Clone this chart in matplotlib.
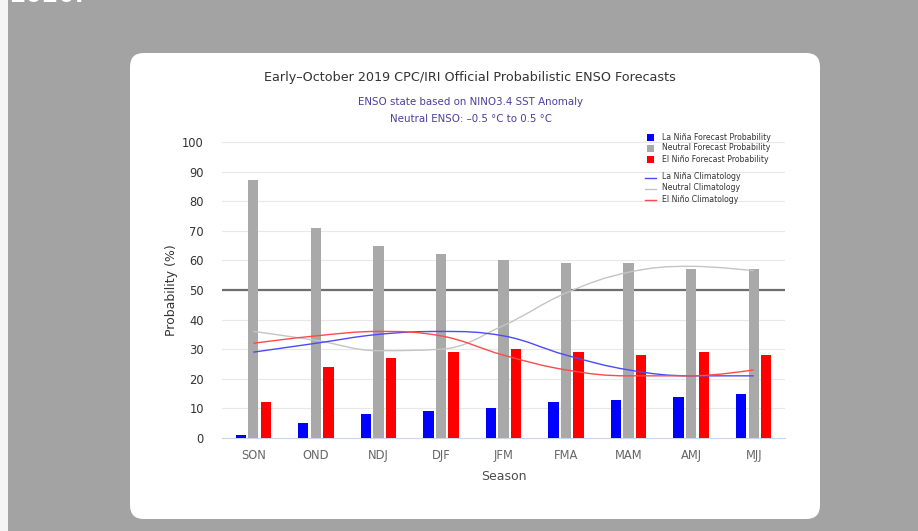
import numpy as np
import matplotlib.pyplot as plt
from matplotlib.patches import FancyBboxPatch, Rectangle, PathPatch
from matplotlib.path import Path
from matplotlib.lines import Line2D

# ============================================
# DATA
# ============================================

seasons = ["SON", "OND", "NDJ", "DJF", "JFM", "FMA", "MAM", "AMJ", "MJJ"]

la_nina_prob = [1, 5, 8, 9, 10, 12, 13, 14, 15]
neutral_prob = [87, 71, 65, 62, 60, 59, 59, 57, 57]
el_nino_prob = [12, 24, 27, 29, 30, 29, 28, 29, 28]

la_nina_clim = [29, 32, 35, 36, 34.5, 28, 23, 21, 21]
neutral_clim = [36, 33, 29.5, 30, 38, 49, 56, 58, 56.5]
el_nino_clim = [32, 34.5, 36, 34.5, 28, 23, 21, 21, 23]

BLUE = "#0000ff"
GRAY = "#a9a9a9"
RED = "#ff0000"

W, H = 918, 531


def fx(px):
    return px / W


def fy(py):
    return 1 - py / H


def spline_path(xs, ys, smoothing=1.5):
    # highcharts-style smooth curve through the points
    n = len(xs)
    denom = smoothing + 1
    left = [None] * n
    right = [None] * n
    for i in range(1, n - 1):
        x, y = xs[i], ys[i]
        lx, ly = xs[i - 1], ys[i - 1]
        nx, ny = xs[i + 1], ys[i + 1]
        lcx = (smoothing * x + lx) / denom
        lcy = (smoothing * y + ly) / denom
        rcx = (smoothing * x + nx) / denom
        rcy = (smoothing * y + ny) / denom
        corr = ((rcy - lcy) * (rcx - x)) / (rcx - lcx) + y - rcy
        lcy += corr
        rcy += corr
        if lcy > ly and lcy > y:
            lcy = max(ly, y)
            rcy = 2 * y - lcy
        elif lcy < ly and lcy < y:
            lcy = min(ly, y)
            rcy = 2 * y - lcy
        if rcy > ny and rcy > y:
            rcy = max(ny, y)
            lcy = 2 * y - rcy
        elif rcy < ny and rcy < y:
            rcy = min(ny, y)
            lcy = 2 * y - rcy
        left[i] = (lcx, lcy)
        right[i] = (rcx, rcy)
    left[n - 1] = (xs[n - 1], ys[n - 1])
    right[0] = (xs[0], ys[0])
    verts = [(xs[0], ys[0])]
    codes = [Path.MOVETO]
    for i in range(1, n):
        verts += [right[i - 1], left[i], (xs[i], ys[i])]
        codes += [Path.CURVE4] * 3
    return Path(verts, codes)


# ============================================
# FIGURE
# ============================================

fig = plt.figure(figsize=(W / 100, H / 100), dpi=100)
fig.patch.set_facecolor("#a3a3a3")

# white strip at the far left of the screenshot
fig.patches.append(Rectangle((0, 0), fx(8), 1, transform=fig.transFigure,
                             facecolor="#f4f4f4", edgecolor="none", zorder=-2))

# cut-off heading text at the very top
fig.text(fx(9), fy(1.5), "2020.", color="white", fontsize=17, fontweight="bold",
         ha="left", va="baseline")

# white card
card = FancyBboxPatch((fx(130), fy(519)), fx(820 - 130), (519 - 53) / H,
                      boxstyle="round,pad=0,rounding_size=0.015",
                      transform=fig.transFigure, facecolor="white",
                      edgecolor="none", mutation_aspect=W / H, zorder=-2)
fig.patches.append(card)

ax = fig.add_axes([fx(222), fy(438), fx(785 - 222), (438 - 142) / H])
ax.set_facecolor("none")
ax.set_zorder(1)

x = np.arange(len(seasons))
bw = 0.165
ax.bar(x - 0.2, la_nina_prob, bw, color=BLUE, zorder=3)
ax.bar(x, neutral_prob, bw, color=GRAY, zorder=3)
ax.bar(x + 0.2, el_nino_prob, bw, color=RED, zorder=3)

for vals, col in [(neutral_clim, "#c4c4c4"), (la_nina_clim, "#4a4aff"),
                  (el_nino_clim, "#ff4a4a")]:
    ax.add_patch(PathPatch(spline_path(list(x), vals), facecolor="none",
                           edgecolor=col, lw=1.0, zorder=4))

ax.axhline(50, color="#6e6e6e", lw=1.6, zorder=2)

ax.set_xlim(-0.5, 8.5)
ax.set_ylim(0, 100)
ax.set_yticks(range(0, 101, 10))
ax.grid(axis="y", color="#e8e8e8", lw=0.8, zorder=0)
ax.set_axisbelow(True)
ax.set_xticks(x)
ax.set_xticklabels(seasons)
ax.tick_params(axis="both", length=0, labelsize=8.3)
ax.tick_params(axis="y", colors="#333333", pad=13)
ax.tick_params(axis="x", colors="#666666", pad=8)

for s in ["top", "right", "left"]:
    ax.spines[s].set_visible(False)
ax.spines["bottom"].set_color("#ccd6eb")
ax.spines["bottom"].set_linewidth(0.8)

ax.set_xlabel("Season", fontsize=9, color="#4d4d4d", labelpad=6)
ax.set_ylabel("Probability (%)", fontsize=9, color="#333333", labelpad=3)

# titles
fig.text(fx(470), fy(78), "Early\u2013October 2019 CPC/IRI Official Probabilistic ENSO Forecasts",
         fontsize=9.2, color="#333333", ha="center", va="center")
fig.text(fx(471), fy(102), "ENSO state based on NINO3.4 SST Anomaly",
         fontsize=7.4, color="#4b3fa0", ha="center", va="center")
fig.text(fx(471), fy(119), "Neutral ENSO: \u20130.5 \u00b0C to 0.5 \u00b0C",
         fontsize=7.4, color="#4b3fa0", ha="center", va="center")

# legend
bar_items = [("La Ni\u00f1a Forecast Probability", BLUE),
             ("Neutral Forecast Probability", GRAY),
             ("El Ni\u00f1o Forecast Probability", RED)]
for i, (lab, col) in enumerate(bar_items):
    yy = 137 + i * 11
    fig.patches.append(Rectangle((fx(647), fy(yy + 3.5)), fx(7), 7 / H,
                                 transform=fig.transFigure, facecolor=col,
                                 edgecolor="none", zorder=2))
    fig.text(fx(662), fy(yy), lab, fontsize=5.6, color="#333333",
             ha="left", va="center")

line_items = [("La Ni\u00f1a Climatology", "#4a4aff"),
              ("Neutral Climatology", "#c4c4c4"),
              ("El Ni\u00f1o Climatology", "#ff4a4a")]
for i, (lab, col) in enumerate(line_items):
    yy = 177 + i * 11
    fig.lines.append(Line2D([fx(645), fx(656)], [fy(yy + 1), fy(yy + 1)],
                            transform=fig.transFigure, color=col, lw=1.0,
                            zorder=2))
    fig.text(fx(662), fy(yy), lab, fontsize=5.6, color="#333333",
             ha="left", va="center")

plt.savefig("out.png", dpi=100, facecolor=fig.get_facecolor())
plt.close()
